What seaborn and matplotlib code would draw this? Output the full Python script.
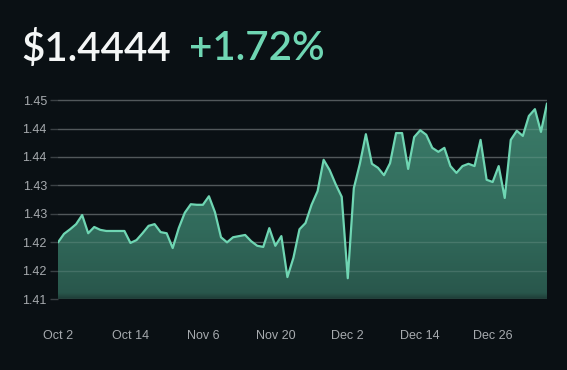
import numpy as np
import pandas as pd
import matplotlib
matplotlib.use("Agg")
import matplotlib.pyplot as plt
import seaborn as sns
from matplotlib.colors import LinearSegmentedColormap

# ---- data ----
prices = [
    1.4200, 1.4215, 1.4223, 1.4232, 1.4248, 1.4216, 1.4227, 1.4222, 1.4220, 1.4220,
    1.4220, 1.4220, 1.4199, 1.4204, 1.4216, 1.4229, 1.4232, 1.4218, 1.4216, 1.4190,
    1.4225, 1.4252, 1.4267, 1.4266, 1.4266, 1.4281, 1.4253, 1.4209, 1.4200, 1.4209,
    1.4211, 1.4213, 1.4202, 1.4194, 1.4192, 1.4225, 1.4194, 1.4211, 1.4139, 1.4173,
    1.4223, 1.4234, 1.4266, 1.4290, 1.4345, 1.4327, 1.4302, 1.4280, 1.4137, 1.4295,
    1.4338, 1.4390, 1.4338, 1.4331, 1.4318, 1.4339, 1.4392, 1.4392, 1.4329, 1.4385,
    1.4397, 1.4389, 1.4366, 1.4359, 1.4366, 1.4334, 1.4322, 1.4334, 1.4338, 1.4334,
    1.4380, 1.4310, 1.4306, 1.4334, 1.4278, 1.4380, 1.4396, 1.4387, 1.4422, 1.4434,
    1.4394, 1.4444,
]
x_tick_index = [0, 12, 24, 36, 48, 60, 72]
x_tick_labels = ["Oct 2", "Oct 14", "Nov 6", "Nov 20", "Dec 2", "Dec 14", "Dec 26"]
y_ticks = [1.41, 1.415, 1.42, 1.425, 1.43, 1.435, 1.44, 1.445]
y_tick_labels = ["1.41", "1.42", "1.42", "1.43", "1.43", "1.44", "1.44", "1.45"]
price_text = "$1.4444"
change_text = "+1.72%"

BG = "#0a1014"
LINE = "#6fd6b3"
GRID = "#3b4145"
TICK = "#a7abaf"

df = pd.DataFrame({"idx": np.arange(len(prices)), "price": prices})

sns.set_theme(style="dark")
plt.rcParams["font.family"] = ["Liberation Sans", "DejaVu Sans"]

fig = plt.figure(figsize=(5.67, 3.70), dpi=100, facecolor=BG)
ax = fig.add_axes([0.1023, 0.1911, 0.9647 - 0.1023, 0.7373 - 0.1911])
ax.set_facecolor(BG)

ymin, ymax = 1.41, 1.4455
ax.set_xlim(0, len(prices) - 1)
ax.set_ylim(ymin, ymax)

# gradient area fill
poly = ax.fill_between(df["idx"], df["price"], ymin, color="none", lw=0)
grad = np.linspace(0, 1, 256).reshape(-1, 1)
cmap = LinearSegmentedColormap.from_list(
    "g", [(0.0, "#1f3d37"), (0.03, "#29574c"), (0.35, "#316a5b"), (1.0, "#3b7c69")])
img = ax.imshow(grad, cmap=cmap, aspect="auto", origin="lower",
                extent=[0, len(prices) - 1, ymin, 1.4445], zorder=1)
img.set_clip_path(poly.get_paths()[0], transform=ax.transData)

# grid: dark over background, lighter over the fill
for yt in y_ticks:
    ax.axhline(yt, color=GRID, lw=1.0, zorder=0.5)
    ax.axhline(yt, color="white", alpha=0.12, lw=1.0, zorder=2)

sns.lineplot(data=df, x="idx", y="price", ax=ax, color=LINE, lw=1.6, zorder=3)

ax.set_xlabel("")
ax.set_ylabel("")
ax.set_yticks(y_ticks)
ax.set_yticklabels(y_tick_labels)
ax.set_xticks(x_tick_index)
ax.set_xticklabels(x_tick_labels)
ax.tick_params(axis="y", colors=GRID, labelcolor=TICK, labelsize=9, length=6, width=1, pad=2, left=True)
ax.tick_params(axis="x", labelcolor=TICK, labelsize=9, length=0, pad=22)
ax.grid(False)
for s in ax.spines.values():
    s.set_visible(False)

title_font = ["Lato", "DejaVu Sans"]
fig.text(21 / 567, 1 - 49 / 370, price_text, color="#f4f6f6", fontsize=29,
         family=title_font, weight="semibold", va="center", ha="left")
fig.text(189 / 567, 1 - 49 / 370, change_text, color=LINE, fontsize=29,
         family=title_font, weight="semibold", va="center", ha="left")

fig.savefig("out.png", dpi=100, facecolor=BG)
